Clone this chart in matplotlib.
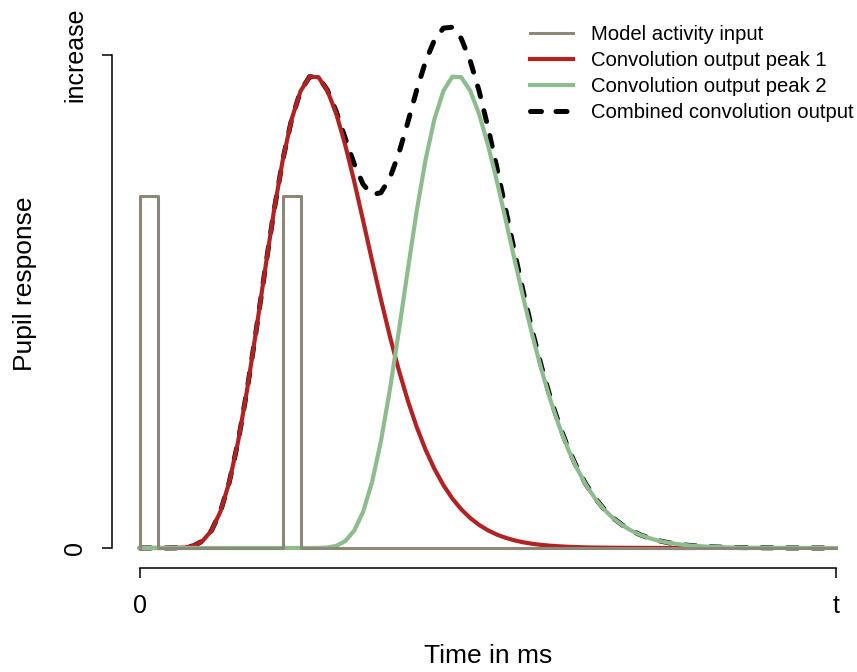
import numpy as np
import matplotlib.pyplot as plt

plt.rcParams['font.family'] = ['Liberation Sans', 'DejaVu Sans']

# time grid in ms, axis ends at "t"
t_end = 3900
time_ms = np.arange(0, t_end + 1, 50)

# model activity input: two short boxes
input_ms = [0, 0, 100, 100, 800, 800, 900, 900, 3900]
input_val = [0, 0.714, 0.714, 0, 0, 0.714, 0.714, 0, 0]

# convolution output of first input (ends at 3100 ms)
peak1 = [0, 0, 0, 0, 0.0002, 0.0010, 0.0044, 0.0140, 0.0350, 0.0732,
         0.1332, 0.2164, 0.3206, 0.4389, 0.5626, 0.6823, 0.7872, 0.8702, 0.9270, 0.9560,
         0.9550, 0.9278, 0.8806, 0.8175, 0.7442, 0.6646, 0.5834, 0.5043, 0.4297, 0.3612,
         0.2998, 0.2459, 0.1995, 0.1603, 0.1275, 0.1005, 0.0785, 0.0609, 0.0468, 0.0358,
         0.0271, 0.0205, 0.0153, 0.0114, 0.0084, 0.0062, 0.0046, 0.0034, 0.0024, 0.0018,
         0.0012, 0.0009, 0.0007, 0.0005, 0.0004, 0.0003, 0.0002, 0.0001, 0.0001, 0.0001,
         0, 0, 0]

# convolution output of second input
peak2 = [0, 0, 0, 0, 0, 0, 0, 0, 0, 0,
         0, 0, 0, 0, 0, 0, 0, 0, 0, 0,
         0.0002, 0.0010, 0.0044, 0.0140, 0.0350, 0.0732, 0.1332, 0.2164, 0.3206, 0.4389,
         0.5626, 0.6823, 0.7872, 0.8702, 0.9270, 0.9560, 0.9550, 0.9278, 0.8806, 0.8175,
         0.7442, 0.6646, 0.5834, 0.5043, 0.4297, 0.3612, 0.2998, 0.2459, 0.1995, 0.1603,
         0.1275, 0.1005, 0.0785, 0.0609, 0.0468, 0.0358, 0.0271, 0.0205, 0.0153, 0.0114,
         0.0084, 0.0062, 0.0046, 0.0034, 0.0024, 0.0018, 0.0012, 0.0009, 0.0007, 0.0005,
         0.0004, 0.0003, 0.0002, 0.0001, 0.0001, 0.0001, 0, 0, 0]

# combined output
combined = [0, 0, 0, 0, 0.0002, 0.0010, 0.0044, 0.0140, 0.0350, 0.0732,
            0.1332, 0.2164, 0.3206, 0.4389, 0.5626, 0.6823, 0.7872, 0.8702, 0.9270, 0.9560,
            0.9552, 0.9288, 0.8850, 0.8315, 0.7792, 0.7378, 0.7166, 0.7207, 0.7503, 0.8001,
            0.8624, 0.9282, 0.9867, 1.0305, 1.0545, 1.0565, 1.0335, 0.9887, 0.9274, 0.8533,
            0.7713, 0.6851, 0.5987, 0.5157, 0.4381, 0.3674, 0.3044, 0.2493, 0.2019, 0.1621,
            0.1287, 0.1014, 0.0792, 0.0614, 0.0472, 0.0361, 0.0273, 0.0206, 0.0154, 0.0115,
            0.0084, 0.0062, 0.0046, 0.0034, 0.0024, 0.0018, 0.0012, 0.0009, 0.0007, 0.0005,
            0.0004, 0.0003, 0.0002, 0.0001, 0.0001, 0.0001, 0, 0, 0]

labels = ['Model activity input', 'Convolution output peak 1',
          'Convolution output peak 2', 'Combined convolution output']

fig = plt.figure(figsize=(8.57, 6.72), dpi=100)
ax = fig.add_axes([112 / 857, 104 / 672, 745 / 857, 568 / 672])

# combined first so the coloured lines sit on top of it
l4, = ax.plot(time_ms, combined, color='black', lw=3.6, dashes=(2.2, 2.9),
              dash_capstyle='round', zorder=2, clip_on=False)
l2, = ax.plot(time_ms[:len(peak1)], peak1, color='#b22222', lw=3.0, zorder=3)
l3, = ax.plot(time_ms, peak2, color='#8fbc8f', lw=3.0, zorder=4)
l1, = ax.plot(input_ms, input_val, color='#8b8878', lw=2.2, zorder=5)

ax.set_xlim(-157, 4018)
ax.set_ylim(-0.0406, 1.1116)

# R style separated axes
for s in ['top', 'right']:
    ax.spines[s].set_visible(False)
ax.spines['left'].set_bounds(0, 1)
ax.spines['bottom'].set_bounds(0, t_end)
ax.spines['left'].set_linewidth(1.1)
ax.spines['bottom'].set_linewidth(1.1)

ax.set_xticks([0, t_end], ['0', 't'], fontsize=18)
ax.set_yticks([0, 1], ['0', 'increase'], fontsize=18, rotation=90, va='center')
ax.tick_params(axis='x', length=7, width=1.1, pad=12)
ax.tick_params(axis='y', length=7, width=1.1, pad=11)

ax.set_xlabel('Time in ms', fontsize=19)
ax.xaxis.set_label_coords(0.5047, -0.134)
ax.set_ylabel('Pupil response', fontsize=19)
ax.yaxis.set_label_coords(-0.100, 0.5)

ax.legend([l1, l2, l3, l4], labels, loc='upper left', frameon=False,
          bbox_to_anchor=(530 / 857, 1 - 25 / 672), bbox_transform=fig.transFigure,
          fontsize=14.6, handlelength=2.1, handletextpad=0.9, labelspacing=0.34,
          borderpad=0, borderaxespad=0)

fig.savefig('out.png', dpi=100)
